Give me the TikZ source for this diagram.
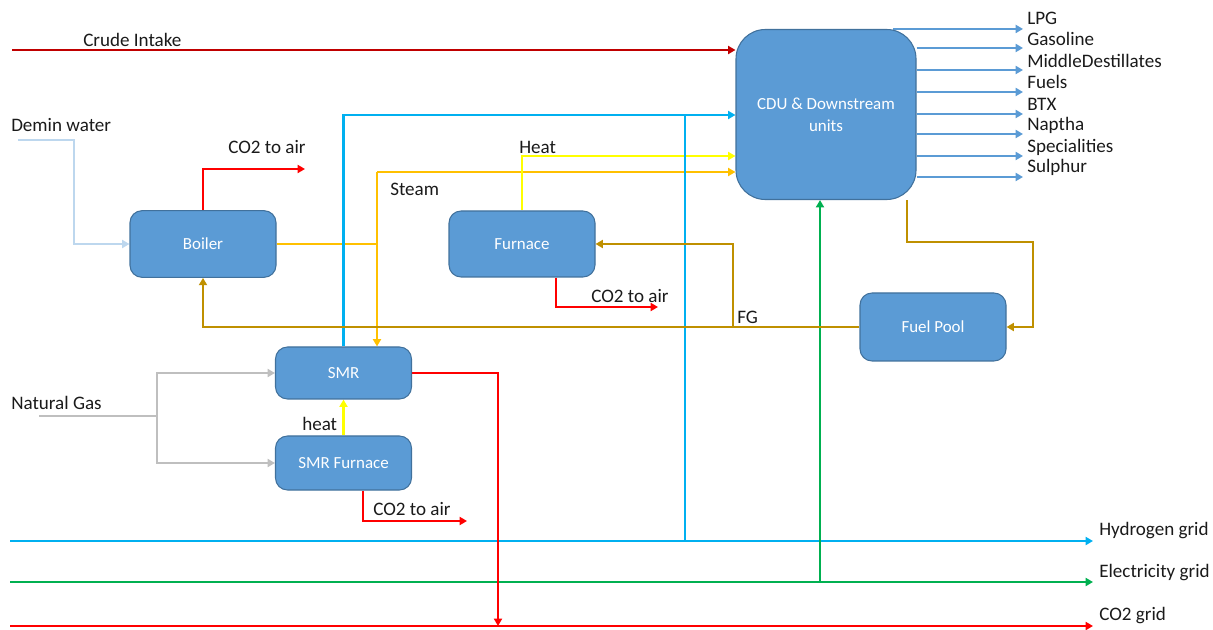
\documentclass[tikz,border=0pt]{standalone}
\usepackage{fontspec}
\setmainfont{Carlito}
\usetikzlibrary{arrows.meta,backgrounds}
\definecolor{crudered}{HTML}{C00000}
\definecolor{co2red}{HTML}{FF0000}
\definecolor{hcyan}{HTML}{00B0F0}
\definecolor{elgreen}{HTML}{00B050}
\definecolor{steamor}{HTML}{FFC000}
\definecolor{heatyel}{HTML}{FFFF00}
\definecolor{fggold}{HTML}{BF9000}
\definecolor{nggray}{HTML}{BFBFBF}
\definecolor{deminblue}{HTML}{BDD7EE}
\definecolor{boxfill}{HTML}{5B9BD5}
\definecolor{boxline}{HTML}{41719C}
\definecolor{labeltext}{HTML}{1A1A1A}
\begin{document}
\begin{tikzpicture}[x=0.75pt,y=-0.75pt,
  box/.style={draw=boxline, fill=boxfill, rounded corners=9pt, text=white,
    font=\fontsize{12.7}{16.5}\selectfont, inner sep=0pt, line width=0.8pt, align=center},
  lbl/.style={font=\fontsize{14.3}{16}\selectfont, inner sep=0pt, anchor=west, text=labeltext},
  conn/.style={line width=2pt},
  arr/.style={-{Triangle[length=5.5pt,width=6pt]}},
  crude/.style={conn, crudered},
  co2/.style={conn, co2red},
  hyd/.style={conn, hcyan},
  elec/.style={conn, elgreen},
  steam/.style={conn, steamor},
  heatl/.style={conn, heatyel},
  fuelg/.style={conn, fggold},
  natgas/.style={conn, nggray},
  demin/.style={conn, deminblue},
  prod/.style={conn, boxfill}]
\useasboundingbox (0,0) rectangle (1213,630);

% boxes
\node[box, minimum width=135pt, minimum height=127.5pt, rounded corners=22pt] (cdu) at (826,114.5) {CDU \& Downstream\\units};
\node[box, minimum width=109.5pt, minimum height=50pt] (boiler) at (203,244) {Boiler};
\node[box, minimum width=109.5pt, minimum height=49.5pt] (furnace) at (522,244) {Furnace};
\node[box, minimum width=102pt, minimum height=39pt] (smr) at (343.5,373) {SMR};
\node[box, minimum width=102pt, minimum height=40.5pt] (smrf) at (343.5,463) {SMR Furnace};
\node[box, minimum width=109.5pt, minimum height=51pt] (fuelpool) at (933,327) {Fuel Pool};

% labels
\node[lbl] (lcrude) at (83,40) {Crude Intake};
\node[lbl] (ldemin) at (11,125) {Demin water};
\node[lbl] (lco2a) at (228,147) {CO2 to air};
\node[lbl] (lsteam) at (390,189) {Steam};
\node[lbl] (lheat) at (519,147) {Heat};
\node[lbl] (lco2b) at (591,296) {CO2 to air};
\node[lbl] (lfg) at (737,317) {FG};
\node[lbl] (lng) at (11,403) {Natural Gas};
\node[lbl] (lheat2) at (302,424) {heat};
\node[lbl] (lco2c) at (373,509) {CO2 to air};
\node[lbl] (lh2) at (1099,531) {Hydrogen grid};
\node[lbl] (lel) at (1099,573) {Electricity grid};
\node[lbl] (lco2g) at (1099,616) {CO2 grid};

\node[lbl] (p0) at (1027,18) {LPG};
\foreach \ly/\t [count=\i] in {39/Gasoline,61/MiddleDestillates,82/Fuels,104/BTX,125/Naptha,147/Specialities,167/Sulphur}
  \node[lbl] (p\i) at (1027,\ly) {\t};

% coordinates
\coordinate (crudeIn) at (12,50);
\coordinate (deminIn) at (18,140);
\coordinate (deminBend) at (74,140);
\coordinate (co2a) at (305,169);
\coordinate (steamJ) at (377,244);
\coordinate (steamTop) at (377,172);
\coordinate (h2J) at (685,115);
\coordinate (h2L) at (10,541);
\coordinate (h2R) at (1093,541);
\coordinate (elL) at (10,582);
\coordinate (elR) at (1093,582);
\coordinate (elJ) at (820,582);
\coordinate (co2L) at (10,626);
\coordinate (co2R) at (1093,626);
\coordinate (smrCO2) at (498,626);
\coordinate (fco2) at (658,307);
\coordinate (sfco2) at (467,521);
\coordinate (ngIn) at (39,416);
\coordinate (ngJ) at (157,416);
\coordinate (fgR) at (1033,242);
\coordinate (fgJ) at (733,327);

\begin{scope}[on background layer]
% crude
\draw[crude, arr] (crudeIn) -- (crudeIn -| cdu.west);
% demin
\draw[demin, arr] (deminIn) -- (deminBend) |- (boiler.west);
% boiler co2
\draw[co2, arr] (boiler.north) |- (co2a);
% steam
\draw[steam] (boiler.east) -- (steamJ);
\draw[steam, arr] (steamTop) -- (steamTop -| cdu.west);
\draw[steam, arr] (steamTop) -- (steamTop |- smr.north);
% heat from furnace
\draw[heatl, arr] (furnace.north) |- (cdu.west |- 0,156);
% hydrogen
\draw[hyd, arr] (smr.north) |- (h2J) -- (h2J -| cdu.west);
\draw[hyd] (h2J) -- (h2J |- h2L);
\draw[hyd, arr] (h2L) -- (h2R);
% electricity
\draw[elec, arr] (elL) -- (elR);
\draw[elec, arr] (elJ) -- (elJ |- cdu.south);
% co2 grid
\draw[co2, arr] (co2L) -- (co2R);
\draw[co2, arr] (smr.east) -| (smrCO2);
% furnace co2
\draw[co2, arr] (furnace.south -| 556,0) |- (fco2);
\draw[co2, arr] (smrf.south -| 363,0) |- (sfco2);
% smr heat
\draw[heatl, arr] (smrf.north) -- (smr.south);
% natural gas
\draw[natgas] (ngIn) -- (ngJ);
\draw[natgas, arr] (ngJ) |- (smr.west);
\draw[natgas, arr] (ngJ) |- (smrf.west);
% fuel gas
\draw[fuelg, arr] (cdu.south -| 907,0) |- (fgR) |- (fuelpool.east);
\draw[fuelg, arr] (fuelpool.west) -| (boiler.south);
\draw[fuelg, arr] (fgJ) |- (furnace.east);
% products
\draw[prod, arr, shorten >=3pt] (cdu.north -| 893,0) -- (cdu.north -| p0.west);
\foreach \y [count=\i] in {48,70,92,114,134,156,177}
  \draw[prod, arr, shorten >=3pt] (cdu.east |- 0,\y) -- (p\i.west |- 0,\y);
\end{scope}
\end{tikzpicture}
\end{document}
